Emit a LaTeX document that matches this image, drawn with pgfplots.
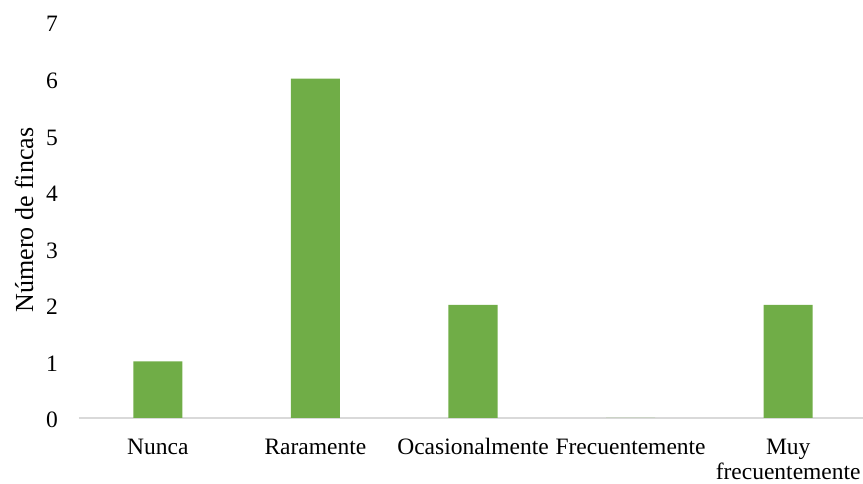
\documentclass[border=0pt]{standalone}
\usepackage{fontspec}
\setmainfont{Liberation Serif}
\usepackage{pgfplots}
\pgfplotsset{compat=1.18}
\definecolor{bargreen}{HTML}{70AD47}
\definecolor{axgray}{HTML}{D9D9D9}
\newcommand{\chartfont}{\fontsize{23.5}{25}\selectfont}
\begin{document}
\chartfont
\begin{tikzpicture}
\begin{axis}[
  at={(79pt,66pt)}, anchor=south west,
  scale only axis,
  width=788pt, height=396pt,
  ybar, bar width=49pt, bar shift=0pt,
  xmin=-0.5, xmax=4.5,
  ymin=0, ymax=7,
  xtick={0,1,2,3,4},
  xticklabels={Nunca,Raramente,Ocasionalmente,Frecuentemente,{\begin{tabular}[t]{@{}c@{}}Muy\\frecuentemente\end{tabular}}},
  ytick={0,1,...,7},
  major tick length=0pt,
  axis x line*=bottom,
  axis y line*=left,
  y axis line style={draw=none},
  x axis line style={draw=axgray, line width=1.5pt, -},
  /pgf/number format/assume math mode=true,
  xticklabel style={anchor=base, yshift=-37pt, font=\chartfont},
  yticklabel style={anchor=base east, yshift=-10pt, xshift=-21pt, inner sep=0pt, font=\chartfont},
  ylabel={Número de fincas},
  every axis y label/.style={at={(rel axis cs:0,0.5)}, xshift=-55pt, rotate=90, anchor=center, font=\fontsize{26}{28}\selectfont},
  clip=false,
]
\addplot[fill=bargreen, draw=none] coordinates {(0,1) (1,6) (2,2) (3,0) (4,2)};
\end{axis}
\pgfresetboundingbox
\path[use as bounding box] (0,0) rectangle (863pt,484pt);
\end{tikzpicture}
\end{document}
